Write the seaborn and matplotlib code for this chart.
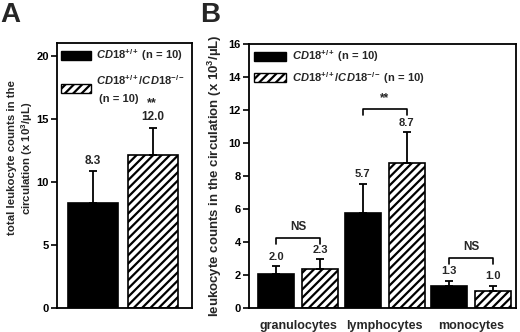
import numpy as np
import pandas as pd
import matplotlib
matplotlib.use('Agg')
import matplotlib.pyplot as plt
from matplotlib.patches import Patch
import seaborn as sns

# panel A: total leukocytes
genotypes = ['CD18+/+', 'CD18+/+/CD18-/-']
total_mean = [8.3, 12.1]
total_sem = [2.55, 2.2]
total_labels = ['8.3', '12.0']

# panel B: leukocyte subsets
cells = ['granulocytes', 'lymphocytes', 'monocytes']
wt_mean = [2.08, 5.76, 1.34]
wt_sem = [0.46, 1.78, 0.32]
mix_mean = [2.34, 8.8, 1.02]
mix_sem = [0.6, 1.84, 0.34]
wt_labels = ['2.0', '5.7', '1.3']
mix_labels = ['2.3', '8.7', '1.0']
sig_labels = ['NS', '**', 'NS']
bracket_top = [4.26, 12.06, 3.04]

sns.set_theme(style='white')
plt.rcParams.update({
    'font.family': ['Liberation Sans', 'DejaVu Sans'],
    'font.weight': 'bold',
    'mathtext.fontset': 'custom',
    'mathtext.rm': 'Liberation Sans:bold',
    'mathtext.it': 'Liberation Sans:italic:bold',
    'mathtext.bf': 'Liberation Sans:bold',
    'hatch.linewidth': 1.6,
    'hatch.color': 'black',
})

fig = plt.figure(figsize=(5.2, 3.32), dpi=100)
axA = fig.add_axes([0.1096, 0.0723, 0.2596, 0.798])
axB = fig.add_axes([0.479, 0.0723, 0.5135, 0.795])

lab_wt = r'$\mathit{CD18}^{+/+}$ (n = 10)'
lab_mix = r'$\mathit{CD18}^{+/+}/\mathit{CD18}^{-/-}$'

# ---- A ----
dfA = pd.DataFrame({'genotype': genotypes, 'count': total_mean})
sns.barplot(data=dfA, x='genotype', y='count', hue='genotype',
            palette=['black', 'white'], width=0.83, edgecolor='black',
            linewidth=1.2, legend=False, errorbar=None, ax=axA)
barsA = [c[0] for c in axA.containers]
barsA[1].set_hatch('////')
for p, m, e, t in zip(barsA, total_mean, total_sem, total_labels):
    x = p.get_x() + p.get_width() / 2
    axA.errorbar(x, m, yerr=[[0], [e]], color='black', capsize=3,
                 elinewidth=1.3, capthick=1.3)
    axA.annotate(t, (x, m + e), xytext=(0, 3), textcoords='offset points',
                 ha='center', va='bottom', fontsize=8.5, fontweight='bold')
# significance star for panel A
pA = barsA[1]
axA.annotate('**', (pA.get_x() + pA.get_width() / 2, total_mean[1] + total_sem[1]),
             xytext=(-1, 13), textcoords='offset points', ha='center',
             va='bottom', fontsize=9, fontweight='bold')
axA.set_xlim(-0.6, 1.65)
axA.set_ylim(0, 21)
axA.set_yticks([0, 5, 10, 15, 20])
axA.set_xticks([])
axA.set_xlabel('')
axA.set_ylabel('total leukocyte counts in the\ncirculation (x 10$^3$/µL)',
               fontsize=8.2, fontweight='bold')
axA.yaxis.set_label_coords(-0.16, 0.566)
hA = [Patch(facecolor='black', edgecolor='black'),
      Patch(facecolor='white', edgecolor='black', hatch='////')]
legA = axA.legend(hA, [lab_wt, lab_mix + '\n (n = 10)'], loc='upper left',
                  frameon=False, fontsize=8, handlelength=2.7, handleheight=0.9,
                  handletextpad=0.4, borderaxespad=0.3, borderpad=0.1,
                  labelspacing=0.9)
for t in legA.get_texts():
    t.set_linespacing(1.8)

# ---- B ----
dfB = pd.DataFrame({
    'cell': cells * 2,
    'genotype': [genotypes[0]] * len(cells) + [genotypes[1]] * len(cells),
    'count': wt_mean + mix_mean,
})
sns.barplot(data=dfB, x='cell', y='count', hue='genotype',
            palette=['black', 'white'], width=1.02, gap=0.18,
            edgecolor='black', linewidth=1.2, legend=False, errorbar=None,
            ax=axB)
wt_bars, mix_bars = axB.containers[0], axB.containers[1]
for p in mix_bars:
    p.set_hatch('////')
for bars, means, sems, labs in [(wt_bars, wt_mean, wt_sem, wt_labels),
                                (mix_bars, mix_mean, mix_sem, mix_labels)]:
    for p, m, e, t in zip(bars, means, sems, labs):
        x = p.get_x() + p.get_width() / 2
        axB.errorbar(x, m, yerr=[[0], [e]], color='black', capsize=3,
                     elinewidth=1.3, capthick=1.3)
        axB.annotate(t, (x, m + e), xytext=(0, 3), textcoords='offset points',
                     ha='center', va='bottom', fontsize=8, fontweight='bold')
for pw, pm, s, yt in zip(wt_bars, mix_bars, sig_labels, bracket_top):
    x0 = pw.get_x() + pw.get_width() / 2
    x1 = pm.get_x() + pm.get_width() / 2
    leg = 0.36
    axB.plot([x0, x0, x1, x1], [yt - leg, yt, yt, yt - leg], color='black', lw=1.2)
    axB.text((x0 + x1) / 2, yt + 0.3, s, ha='center', va='bottom',
             fontsize=8.5, fontweight='bold')
axB.set_xlim(-0.57, 2.52)
axB.set_ylim(0, 16)
axB.set_yticks(np.arange(0, 17, 2))
axB.set_xlabel('')
axB.set_ylabel('leukocyte counts in the circulation (x 10$^3$/µL)',
               fontsize=9.5, fontweight='bold', labelpad=3)
hB = [Patch(facecolor='black', edgecolor='black'),
      Patch(facecolor='white', edgecolor='black', hatch='////')]
axB.legend(hB, [lab_wt, lab_mix + ' (n = 10)'], loc='upper left',
           frameon=False, fontsize=8, handlelength=2.9, handleheight=0.9,
           handletextpad=0.6, borderaxespad=0.3, borderpad=0.1,
           labelspacing=0.5)

for ax in (axA, axB):
    for sp in ax.spines.values():
        sp.set_visible(True)
        sp.set_color('black')
        sp.set_linewidth(1.3)
    ax.tick_params(axis='y', left=True, direction='out', length=4, width=1.2,
                   labelsize=8, pad=2, colors='black')
    ax.tick_params(axis='x', bottom=False, labelsize=9, pad=2.5)
    for lbl in ax.get_yticklabels() + ax.get_xticklabels():
        lbl.set_fontweight('bold')

fig.text(0.0, 0.995, 'A', fontsize=20, fontweight='bold', va='top', ha='left')
fig.text(0.385, 0.995, 'B', fontsize=20, fontweight='bold', va='top', ha='left')

fig.savefig('out.png', dpi=100)
